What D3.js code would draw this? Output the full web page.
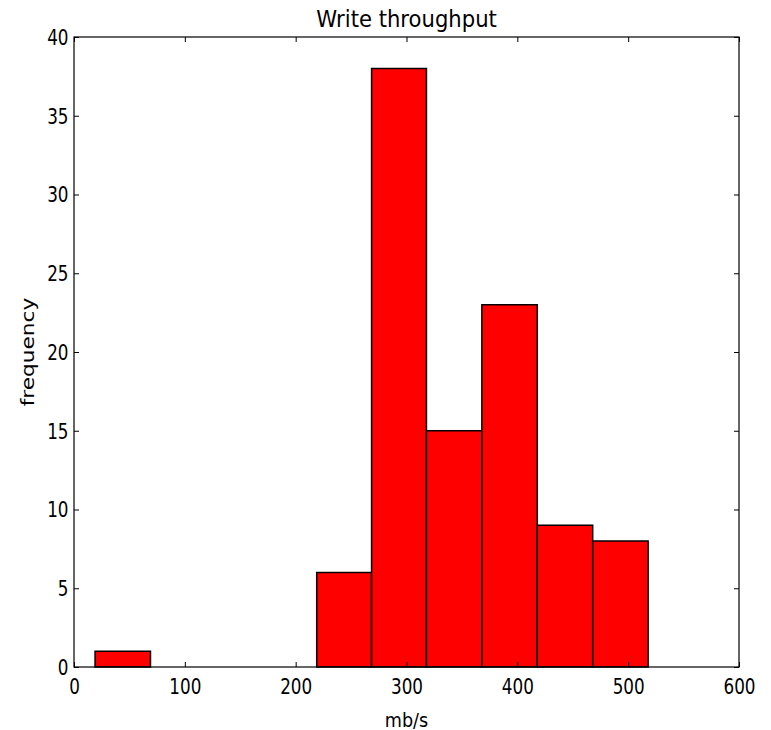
<!DOCTYPE html>
<html><head><meta charset="utf-8">
<script src="https://cdn.jsdelivr.net/npm/d3@7"></script>
<style>body{margin:0;background:#fff}svg{display:block}text{font-family:"DejaVu Sans",sans-serif;fill:#000}</style>
</head><body>
<script>
const binEdges = [19, 69, 119, 169, 219, 268.5, 318, 368, 418, 468, 518];
const counts = [1, 0, 0, 0, 6, 38, 15, 23, 9, 8];
const xTicks = [0, 100, 200, 300, 400, 500, 600];
const yTicks = [0, 5, 10, 15, 20, 25, 30, 35, 40];
const title = "Write throughput";
const xLabel = "mb/s";
const yLabel = "frequency";

const W = 771, H = 730;
const m = {left: 74, right: 32, top: 37, bottom: 63};
const svg = d3.select("body").append("svg").attr("width", W).attr("height", H);
const x = d3.scaleLinear().domain([0, 600]).range([m.left, W - m.right]);
const y = d3.scaleLinear().domain([0, 40]).range([H - m.bottom, m.top]);

const bins = counts.map((c, i) => ({x0: binEdges[i], x1: binEdges[i + 1], c}));
svg.append("g").selectAll("rect").data(bins.filter(b => b.c > 0)).join("rect")
  .attr("x", d => x(d.x0)).attr("width", d => x(d.x1) - x(d.x0))
  .attr("y", d => y(d.c)).attr("height", d => y(0) - y(d.c))
  .attr("fill", "#ff0000").attr("stroke", "#000").attr("stroke-width", 1.5);

const tl = 5;
function styleAxis(g) {
  g.select(".domain").remove();
  g.selectAll(".tick line").attr("stroke", "#000").attr("stroke-width", 1);
}
// bottom
const xb = svg.append("g").attr("transform", `translate(0,${y(0)})`)
  .call(d3.axisBottom(x).tickValues(xTicks).tickSizeInner(-tl).tickSizeOuter(0).tickPadding(12));
styleAxis(xb);
xb.selectAll(".tick text").attr("font-size", 20.5).attr("font-family", "DejaVu Sans")
  .attr("transform", "scale(0.82,1)").attr("dy", "0.71em").attr("x", 0);
// top
const xt = svg.append("g").attr("transform", `translate(0,${y(40)})`)
  .call(d3.axisTop(x).tickValues(xTicks).tickSizeInner(-tl).tickSizeOuter(0).tickFormat(""));
styleAxis(xt);
// left
const yl = svg.append("g").attr("transform", `translate(${x(0)},0)`)
  .call(d3.axisLeft(y).tickValues(yTicks).tickSizeInner(-tl).tickSizeOuter(0).tickPadding(0));
styleAxis(yl);
yl.selectAll(".tick text").attr("font-size", 20.5).attr("font-family", "DejaVu Sans")
  .attr("x", -5.5 / 0.82).attr("transform", "scale(0.82,1)").attr("dy", "0.36em");
// right
const yr = svg.append("g").attr("transform", `translate(${x(600)},0)`)
  .call(d3.axisRight(y).tickValues(yTicks).tickSizeInner(-tl).tickSizeOuter(0).tickFormat(""));
styleAxis(yr);

// frame
svg.append("rect").attr("x", x(0)).attr("y", y(40)).attr("width", x(600) - x(0)).attr("height", y(0) - y(40))
  .attr("fill", "none").attr("stroke", "#000").attr("stroke-width", 1.2);

const cx = (x(0) + x(600)) / 2;
svg.append("text").attr("transform", `translate(${cx},27) scale(0.92,1)`).attr("text-anchor", "middle")
  .attr("font-size", 23).text(title);
svg.append("text").attr("transform", `translate(${cx},727) scale(0.88,1)`).attr("text-anchor", "middle")
  .attr("font-size", 20).text(xLabel);
svg.append("text").attr("transform", `translate(34,${(y(0) + y(40)) / 2}) rotate(-90) scale(1.17,1)`).attr("text-anchor", "middle")
  .attr("font-size", 18.5).text(yLabel);
</script>
</body></html>
